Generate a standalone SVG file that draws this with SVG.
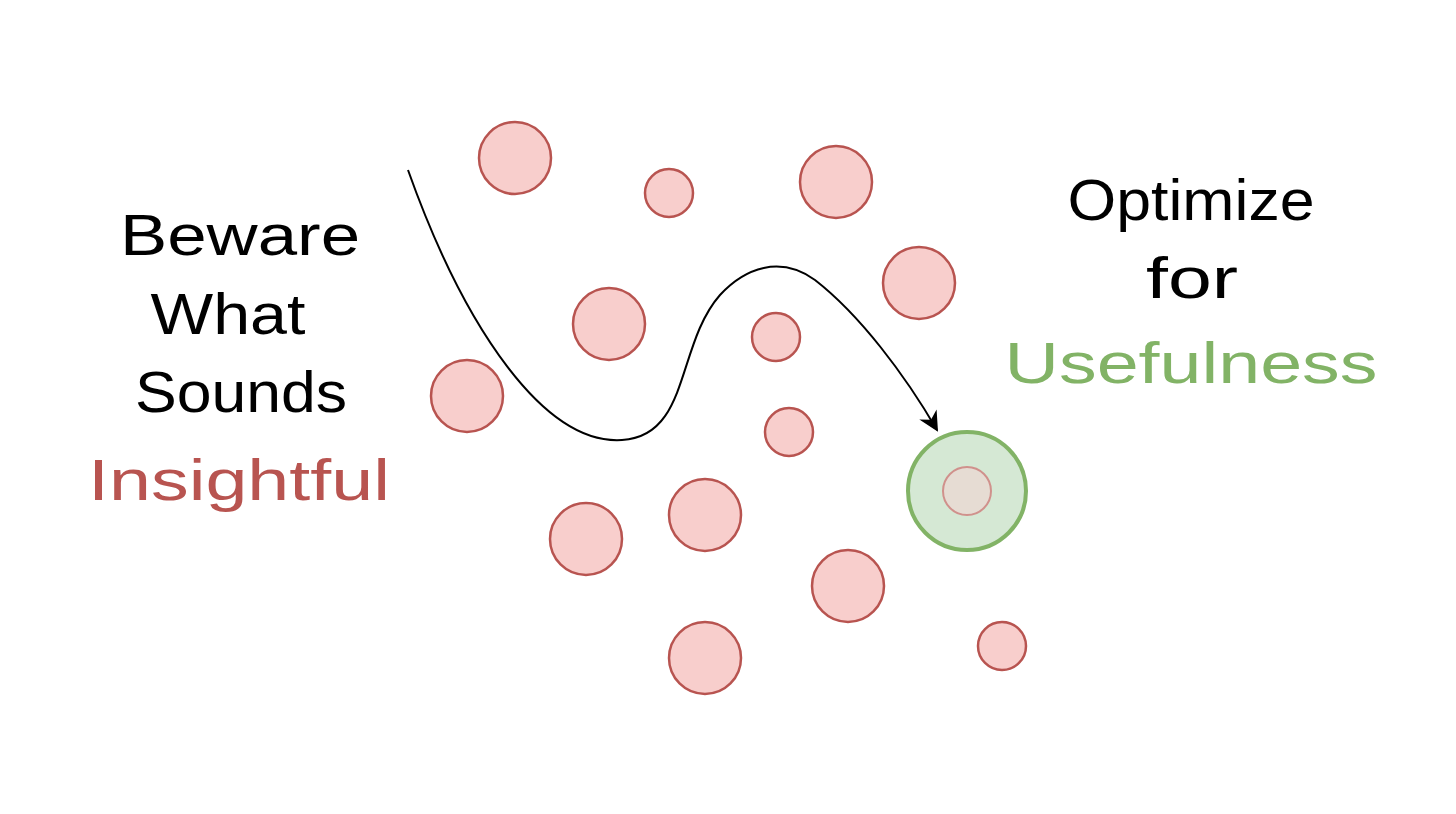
<svg xmlns="http://www.w3.org/2000/svg" width="1456" height="814" viewBox="0 0 1456 814">
<style>
.bub{fill:#f8cecc;stroke:#b85450;stroke-width:2.5}
.t{font-family:"Liberation Sans",Arial,sans-serif;font-size:58px;text-anchor:middle;fill:#000}
.red{fill:#b85450}
.green{fill:#82b366}
</style>
<defs>
<marker id="ah" viewBox="0 0 10 10" refX="9" refY="5" markerWidth="20" markerHeight="20" markerUnits="userSpaceOnUse" orient="auto">
<path d="M0,0 L10,5 L0,10 L3,5 Z" fill="#000"/>
</marker>
</defs>
<rect width="1456" height="814" fill="#fff"/>
<g id="bubbles">
<circle class="bub" cx="515" cy="158" r="36"/>
<circle class="bub" cx="669" cy="193" r="24"/>
<circle class="bub" cx="836" cy="182" r="36"/>
<circle class="bub" cx="919" cy="283" r="36"/>
<circle class="bub" cx="609" cy="324" r="36"/>
<circle class="bub" cx="776" cy="337" r="24"/>
<circle class="bub" cx="467" cy="396" r="36"/>
<circle class="bub" cx="789" cy="432" r="24"/>
<circle class="bub" cx="705" cy="515" r="36"/>
<circle class="bub" cx="586" cy="539" r="36"/>
<circle class="bub" cx="848" cy="586" r="36"/>
<circle class="bub" cx="705" cy="658" r="36"/>
<circle class="bub" cx="1002" cy="646" r="24"/>
</g>
<g id="target">
<circle cx="967" cy="491" r="59" fill="#d5e8d4" stroke="#82b366" stroke-width="4"/>
<circle cx="967" cy="491" r="24" fill="#e6dcd3" stroke="#d0918c" stroke-width="2"/>
</g>
<g id="connectors">
<path d="M408,170 C465,330 545,445 622,440 C690,436 676,345 720,295 C745,268 780,255 815,280 C860,315 905,375 937,430" fill="none" stroke="#000" stroke-width="2" marker-end="url(#ah)"/>
</g>
<g id="left-label">
<text class="t" x="240" y="255" textLength="240" lengthAdjust="spacingAndGlyphs">Beware</text>
<text class="t" x="228" y="334" textLength="155" lengthAdjust="spacingAndGlyphs">What</text>
<text class="t" x="241" y="412" textLength="212" lengthAdjust="spacingAndGlyphs">Sounds</text>
<text class="t red" x="239" y="500" textLength="302" lengthAdjust="spacingAndGlyphs">Insightful</text>
</g>
<g id="right-label">
<text class="t" x="1191" y="220" textLength="247" lengthAdjust="spacingAndGlyphs">Optimize</text>
<text class="t" x="1192" y="298" textLength="92" lengthAdjust="spacingAndGlyphs">for</text>
<text class="t green" x="1191" y="383" textLength="373" lengthAdjust="spacingAndGlyphs">Usefulness</text>
</g>
</svg>
